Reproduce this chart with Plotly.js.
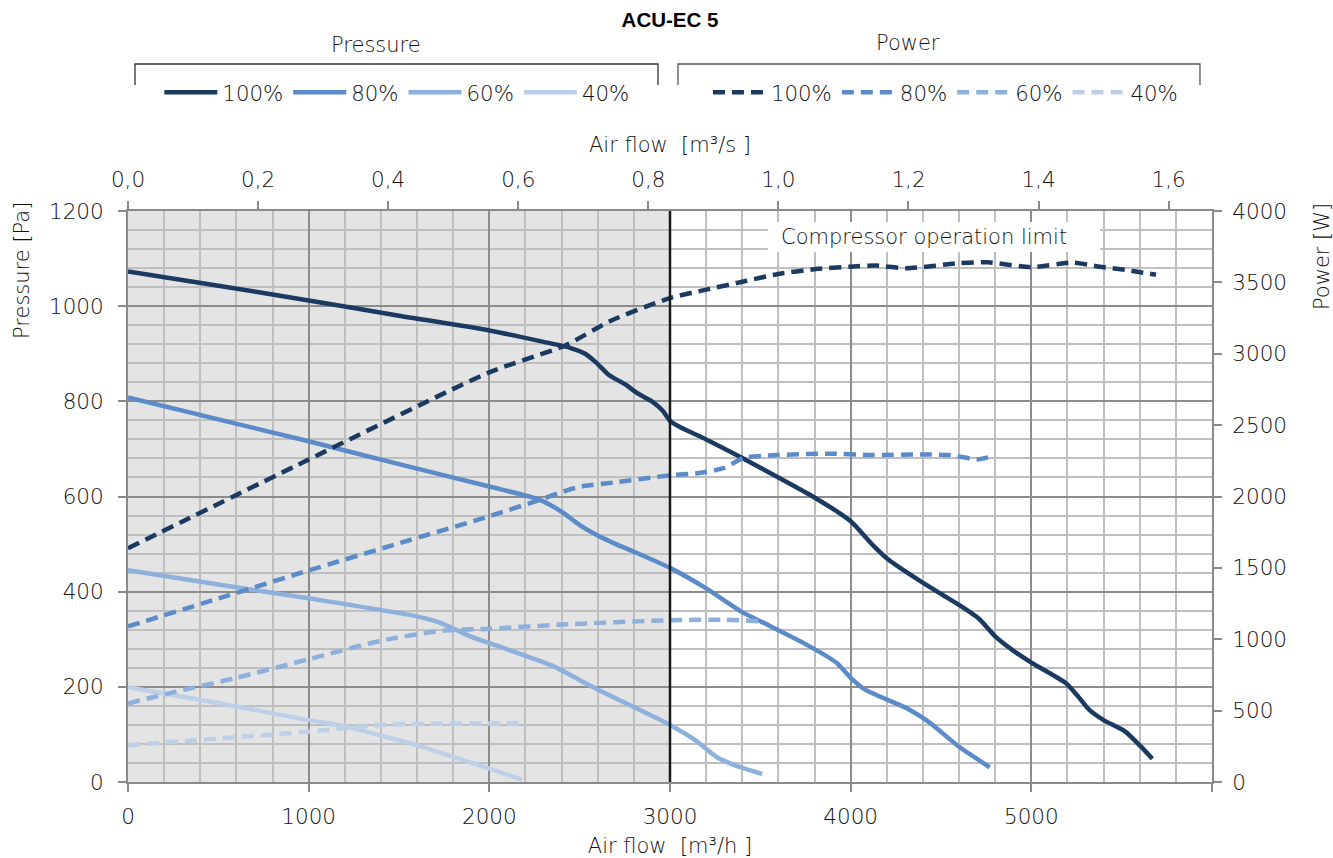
<!DOCTYPE html>
<html>
<head>
<meta charset="utf-8">
<script src="https://cdn.plot.ly/plotly-3.0.1.min.js"></script>
<style>html,body{margin:0;padding:0;background:#fff;}#chart{width:1333px;height:858px;}</style>
</head>
<body>
<div id="chart"></div>
<script>
// ---- Data (air flow in m3/h; pressure in Pa; power in W) ----
const speedLabels = ['100%', '80%', '60%', '40%'];

const p100_x = [0, 500, 1000, 1500, 2000, 2300, 2450, 2530, 2590, 2660, 2750, 2820, 2900, 2960, 3000, 3060, 3200, 3400, 3600, 3800, 4000, 4120, 4210, 4390, 4510, 4600, 4710, 4800, 4900, 5000, 5190, 5250, 5320, 5400, 5520, 5600, 5670];
const p100_y = [1073, 1043, 1012, 980, 949, 925, 912, 900, 882, 856, 836, 817, 800, 780, 759, 745, 720, 681, 640, 598, 548, 499, 467, 421, 393, 372, 343, 306, 276, 251, 208, 184, 152, 130, 106, 77, 49];

const p80_x = [0, 500, 1000, 1500, 2000, 2280, 2400, 2500, 2600, 2700, 2800, 3000, 3200, 3400, 3510, 3730, 3920, 4000, 4080, 4310, 4430, 4600, 4770];
const p80_y = [808, 762, 716, 668, 621, 593, 568, 540, 518, 500, 484, 450, 407, 357, 336, 294, 251, 219, 194, 155, 127, 74, 31];

const p60_x = [0, 500, 1000, 1600, 1740, 1900, 2000, 2350, 2580, 3000, 3140, 3260, 3360, 3510];
const p60_y = [445, 415, 386, 348, 333, 305, 292, 244, 198, 120, 88, 52, 35, 17];

const p40_x = [0, 500, 1000, 1200, 1600, 2000, 2180];
const p40_y = [199, 166, 130, 117, 77, 28, 5];

const w100_x = [0, 1000, 2000, 2420, 2670, 3000, 3200, 3400, 3600, 3800, 4000, 4140, 4310, 4600, 4760, 5000, 5230, 5380, 5540, 5690];
const w100_y = [1637, 2259, 2870, 3058, 3230, 3390, 3449, 3504, 3559, 3592, 3610, 3618, 3599, 3634, 3641, 3606, 3639, 3610, 3584, 3553];

const w80_x = [0, 500, 1000, 1500, 2000, 2280, 2420, 2510, 2700, 3000, 3160, 3300, 3410, 3590, 3880, 4120, 4390, 4550, 4700, 4770];
const w80_y = [1090, 1285, 1482, 1672, 1862, 1977, 2040, 2070, 2100, 2148, 2164, 2200, 2271, 2290, 2300, 2290, 2295, 2290, 2260, 2277];

const w60_x = [0, 200, 600, 1000, 1400, 1740, 2000, 2400, 3000, 3300, 3510];
const w60_y = [550, 613, 730, 860, 990, 1060, 1073, 1103, 1133, 1137, 1125];

const w40_x = [0, 500, 1000, 1200, 1400, 1600, 2180];
const w40_y = [258, 305, 353, 376, 400, 407, 410];

// Axis ticks
const xTickVals = [0, 1000, 2000, 3000, 4000, 5000, 6000];
const xTickText = ['0', '1000', '2000', '3000', '4000', '5000', ''];
const topTickVals = [0, 0.2, 0.4, 0.6, 0.8, 1.0, 1.2, 1.4, 1.6];
const topTickText = ['0,0', '0,2', '0,4', '0,6', '0,8', '1,0', '1,2', '1,4', '1,6'];
const limitFlow = 3000;     // compressor operation limit, m3/h
const xMax = 6000;

// ---- Styles ----
const colors = ['#1b3a61', '#5b8bc8', '#8db0dc', '#bdd0e8'];
const FONT = '"DejaVu Sans", Verdana, sans-serif';
const W = 300;
const SZ = 21;

const pressX = [p100_x, p80_x, p60_x, p40_x];
const pressY = [p100_y, p80_y, p60_y, p40_y];
const powX = [w100_x, w80_x, w60_x, w40_x];
const powY = [w100_y, w80_y, w60_y, w40_y];

const traces = [];
for (let i = 0; i < 4; i++) {
  traces.push({
    type: 'scatter', mode: 'lines', x: pressX[i], y: pressY[i],
    name: speedLabels[i], legend: 'legend',
    line: {color: colors[i], width: 4.5, shape: 'spline', smoothing: 0.6},
    xaxis: 'x', yaxis: 'y', hoverinfo: 'skip'
  });
}
for (let i = 0; i < 4; i++) {
  traces.push({
    type: 'scatter', mode: 'lines', x: powX[i], y: powY[i],
    name: speedLabels[i], legend: 'legend2',
    line: {color: colors[i], width: 4.5, dash: '12px,7px', shape: 'spline', smoothing: 0.6},
    xaxis: 'x', yaxis: 'y2', hoverinfo: 'skip'
  });
}
// invisible trace to activate the top axis (m3/s)
traces.push({type: 'scatter', mode: 'lines', x: [0, xMax / 3600], y: [0, 0], xaxis: 'x2', yaxis: 'y',
  line: {width: 0}, showlegend: false, hoverinfo: 'skip', opacity: 0});

const axisLine = {showline: true, linecolor: '#8a8a8a', linewidth: 2, ticks: 'outside', tickcolor: '#8a8a8a', tickwidth: 2, ticklen: 8, zeroline: false, automargin: false};
const tickFont = {family: FONT, size: 21.5, color: '#111', weight: W};
const txtFont = {family: FONT, size: SZ, color: '#111', weight: W};
const legFont = {family: FONT, size: 21.3, color: '#111', weight: W};

const layout = {
  width: 1333, height: 858,
  margin: {l: 128, r: 121, t: 211, b: 76},
  paper_bgcolor: '#ffffff', plot_bgcolor: '#ffffff',
  font: {family: FONT, color: '#111'},
  title: {text: 'ACU-EC 5', x: 0.5, xref: 'paper', xanchor: 'center', y: 1 - 20 / 858, yanchor: 'middle',
    font: {family: '"Liberation Sans", Arial, sans-serif', size: 20.5, weight: 700, color: '#000'}},
  xaxis: Object.assign({}, axisLine, {
    range: [0, xMax], tickmode: 'array', tickvals: xTickVals, ticktext: xTickText,
    tickfont: tickFont, ticklabelstandoff: 6, showgrid: true, gridcolor: '#8c8c8c', gridwidth: 2,
    minor: {dtick: 200, showgrid: true, gridcolor: '#bfbfbf', gridwidth: 2, ticks: ''},
    title: {text: 'Air flow\u00a0 [m\u00b3/h\u00a0]', font: txtFont, standoff: 13}
  }),
  xaxis2: Object.assign({}, axisLine, {
    overlaying: 'x', side: 'top', range: [0, xMax / 3600], tickmode: 'array', tickvals: topTickVals, ticktext: topTickText,
    tickfont: tickFont, ticklabelstandoff: 5, showgrid: false,
    title: {text: 'Air flow\u00a0 [m\u00b3/s\u00a0]', font: txtFont, standoff: 9}
  }),
  yaxis: Object.assign({}, axisLine, {
    range: [0, 1200], dtick: 200, tickfont: tickFont, ticklabelstandoff: 10, showgrid: true, gridcolor: '#8c8c8c', gridwidth: 2,
    minor: {dtick: 40, showgrid: true, gridcolor: '#bfbfbf', gridwidth: 2, ticks: ''}
  }),
  yaxis2: Object.assign({}, axisLine, {
    overlaying: 'y', side: 'right', range: [0, 4000], dtick: 500, tickfont: tickFont, ticklabelstandoff: 6, showgrid: false
  }),
  showlegend: true,
  legend: {orientation: 'h', x: 0.0289, xanchor: 'left', y: 1.2075, yanchor: 'middle',
    font: legFont, bgcolor: 'rgba(0,0,0,0)', itemwidth: 53},
  legend2: {orientation: 'h', x: 0.5350, xanchor: 'left', y: 1.2075, yanchor: 'middle',
    font: legFont, bgcolor: 'rgba(0,0,0,0)', itemwidth: 53},
  shapes: [
    {type: 'rect', xref: 'x', yref: 'paper', x0: 0, x1: limitFlow, y0: 0, y1: 1, fillcolor: 'rgba(0,0,0,0.106)', line: {width: 0}, layer: 'between'},
    {type: 'rect', xref: 'x', yref: 'y', x0: 3542, x1: 5380, y0: 1114, y1: 1177, fillcolor: '#ffffff', line: {width: 0}, layer: 'between'},
    {type: 'line', xref: 'x', yref: 'paper', x0: limitFlow, x1: limitFlow, y0: 0, y1: 1, line: {color: '#1a1a1a', width: 2.5}, layer: 'above'},
    // legend group brackets
    {type: 'path', xref: 'paper', yref: 'paper', path: 'M 0.00646 1.2207 L 0.00646 1.2574 L 0.4889 1.2574 L 0.4889 1.2207', line: {color: '#333', width: 1.3}},
    {type: 'path', xref: 'paper', yref: 'paper', path: 'M 0.5074 1.2207 L 0.5074 1.2574 L 0.9889 1.2574 L 0.9889 1.2207', line: {color: '#555', width: 1.3}}
  ],
  annotations: [
    {text: 'Pressure', xref: 'paper', yref: 'paper', x: 0.2288, y: 1.2907, xanchor: 'center', yanchor: 'middle', showarrow: false, font: txtFont},
    {text: 'Power', xref: 'paper', yref: 'paper', x: 0.7196, y: 1.294, xanchor: 'center', yanchor: 'middle', showarrow: false, font: txtFont},
    {text: 'Compressor operation limit', xref: 'x', yref: 'y', x: 3603, y: 1145, xanchor: 'left', yanchor: 'middle', showarrow: false, font: txtFont},
    {text: 'Pressure [Pa]', xref: 'paper', yref: 'paper', x: -0.0978, y: 0.8967, xanchor: 'center', yanchor: 'middle', textangle: -90, showarrow: false, font: txtFont},
    {text: 'Power [W]', xref: 'paper', yref: 'paper', x: 1.1015, y: 0.9194, xanchor: 'center', yanchor: 'middle', textangle: -90, showarrow: false, font: txtFont}
  ]
};

Plotly.newPlot('chart', traces, layout, {displayModeBar: false, staticPlot: true});
</script>
</body>
</html>
